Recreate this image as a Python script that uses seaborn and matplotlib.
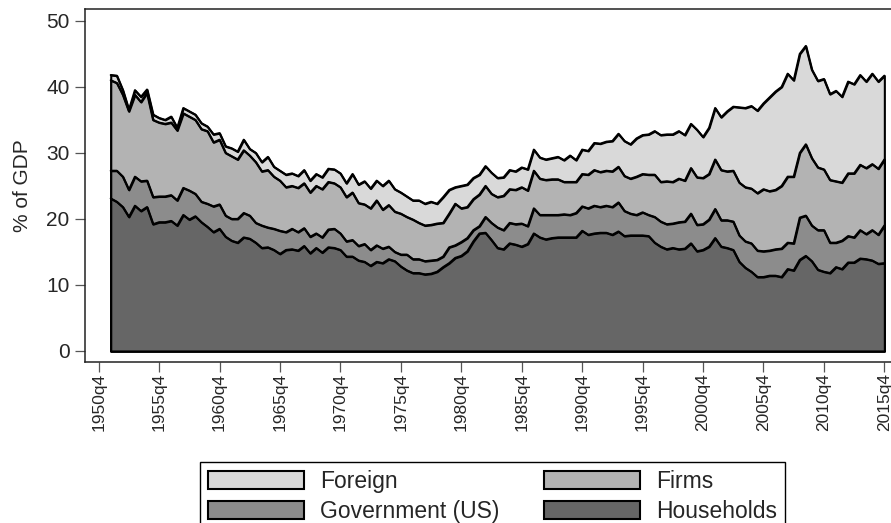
import matplotlib
matplotlib.use("Agg")
import matplotlib.pyplot as plt
from matplotlib.patches import Patch
import numpy as np
import pandas as pd
import seaborn as sns

# half-yearly observations (q2 / q4), 1951q4 .. 2015q4
quarters = pd.period_range("1951Q4", "2015Q4", freq="Q")[::2]

# cumulative holdings, % of GDP (each series includes the ones below it)
households = [
    23.1, 22.6, 21.8, 20.3, 22.0, 21.2, 21.8, 19.2, 19.5, 19.5,
    19.7, 19.0, 20.6, 19.9, 20.4, 19.5, 18.8, 18.0, 18.5, 17.3,
    16.7, 16.4, 17.2, 17.0, 16.4, 15.6, 15.7, 15.3, 14.7, 15.3,
    15.4, 15.2, 15.9, 14.8, 15.6, 14.9, 15.7, 15.6, 15.3, 14.3,
    14.3, 13.7, 13.5, 12.9, 13.5, 13.3, 13.9, 13.6, 12.8, 12.2,
    11.8, 11.8, 11.6, 11.7, 12.0, 12.7, 13.3, 14.1, 14.4, 15.1,
    16.6, 17.8, 17.9, 16.8, 15.6, 15.4, 16.3, 16.1, 15.8, 16.2,
    17.8, 17.2, 16.9, 17.1, 17.2, 17.2, 17.2, 17.2, 18.2, 17.6,
    17.8, 17.9, 17.9, 17.6, 18.1, 17.4, 17.5, 17.5, 17.5, 17.4,
    16.4, 15.8, 15.4, 15.6, 15.4, 15.5, 16.3, 15.1, 15.3, 15.8,
    17.1, 15.8, 15.6, 15.3, 13.5, 12.6, 12.0, 11.2, 11.2, 11.4,
    11.4, 11.2, 12.4, 12.2, 13.8, 14.4, 13.6, 12.3, 12.0, 11.8,
    12.7, 12.4, 13.4, 13.4, 14.0, 13.9, 13.7, 13.2, 13.3,
]
plus_government = [
    27.3, 27.3, 26.4, 24.4, 26.4, 25.7, 25.8, 23.3, 23.4, 23.4,
    23.6, 22.8, 24.7, 24.3, 23.8, 22.6, 22.3, 21.9, 22.2, 20.5,
    20.0, 20.0, 20.9, 20.5, 19.4, 19.0, 18.7, 18.5, 18.2, 18.0,
    18.5, 18.0, 18.6, 17.3, 17.8, 17.2, 18.4, 18.5, 17.8, 16.6,
    16.8, 15.9, 16.2, 15.3, 16.0, 15.5, 15.8, 15.0, 14.6, 14.6,
    13.9, 13.9, 13.6, 13.7, 13.8, 14.3, 15.7, 16.0, 16.5, 17.1,
    18.3, 18.9, 20.3, 19.4, 18.7, 18.3, 19.4, 19.2, 19.3, 18.9,
    21.6, 20.6, 20.6, 20.6, 20.6, 20.7, 20.6, 20.9, 21.9, 21.6,
    22.0, 21.8, 22.0, 21.8, 22.5, 21.2, 20.8, 20.6, 21.0, 20.6,
    20.3, 19.6, 19.2, 19.3, 19.5, 19.6, 20.8, 19.1, 19.2, 19.9,
    21.5, 19.8, 19.8, 19.6, 17.5, 16.6, 16.3, 15.2, 15.1, 15.2,
    15.4, 15.5, 16.4, 16.3, 20.2, 20.5, 19.0, 18.3, 18.3, 16.4,
    16.4, 16.7, 17.4, 17.2, 18.3, 17.7, 18.3, 17.6, 19.0,
]
plus_firms = [
    41.0, 40.6, 38.8, 36.3, 38.8, 37.7, 39.1, 35.0, 34.6, 34.4,
    34.6, 33.4, 36.0, 35.5, 35.0, 33.6, 33.3, 31.6, 32.0, 30.0,
    29.5, 29.0, 30.4, 29.6, 28.6, 27.2, 27.4, 26.4, 25.8, 24.8,
    25.0, 24.7, 25.4, 24.0, 25.0, 24.5, 25.6, 25.4, 24.8, 23.3,
    24.0, 22.4, 22.2, 21.6, 22.8, 21.4, 22.1, 21.1, 20.8, 20.3,
    19.9, 19.4, 19.0, 19.1, 19.3, 19.4, 20.8, 22.3, 21.6, 21.8,
    23.0, 23.7, 25.0, 23.8, 23.3, 23.5, 24.5, 24.4, 24.8, 24.3,
    27.3, 26.1, 25.9, 26.0, 26.0, 25.6, 25.6, 25.6, 26.8, 26.7,
    27.4, 27.1, 27.3, 27.2, 27.9, 26.5, 26.1, 26.4, 26.8, 26.7,
    26.7, 25.6, 25.7, 25.6, 26.1, 25.8, 27.7, 26.3, 26.2, 26.8,
    29.0, 27.4, 27.2, 27.3, 25.5, 24.8, 24.6, 23.9, 24.5, 24.2,
    24.4, 25.0, 26.4, 26.4, 30.0, 31.3, 29.2, 27.8, 27.5, 25.9,
    25.7, 25.5, 26.9, 26.9, 28.2, 27.7, 28.3, 27.6, 29.0,
]
plus_foreign = [
    41.8, 41.7, 39.5, 36.5, 39.5, 38.5, 39.6, 35.8, 35.3, 35.0,
    35.5, 33.8, 36.8, 36.3, 35.8, 34.5, 34.0, 32.8, 33.0, 31.0,
    30.7, 30.2, 32.0, 30.6, 30.0, 28.6, 29.4, 27.9, 27.3, 26.7,
    26.9, 26.5, 27.4, 25.8, 26.8, 26.3, 27.6, 27.5, 26.9, 25.4,
    26.8, 25.2, 25.7, 24.6, 25.8, 25.0, 25.8, 24.5, 24.0, 23.4,
    22.8, 22.8, 22.3, 22.6, 22.3, 23.3, 24.4, 24.8, 25.0, 25.2,
    26.2, 26.7, 28.0, 27.0, 26.2, 26.3, 27.4, 27.2, 27.8, 27.5,
    30.5, 29.3, 29.0, 29.2, 29.4, 28.9, 29.6, 28.9, 30.5, 30.3,
    31.5, 31.4, 31.7, 31.8, 32.9, 31.8, 31.3, 32.2, 32.7, 32.8,
    33.3, 32.7, 32.8, 32.8, 33.3, 32.7, 34.4, 33.5, 32.4, 33.8,
    36.8, 35.4, 36.3, 37.0, 36.9, 36.8, 37.1, 36.4, 37.5, 38.4,
    39.3, 40.0, 42.0, 41.0, 45.0, 46.2, 42.6, 40.9, 41.2, 38.9,
    39.4, 38.5, 40.8, 40.4, 41.8, 40.8, 42.0, 40.8, 41.7,
]

tick_years = list(range(1950, 2016, 5))
tick_labels = [f"{y}q4" for y in tick_years]

t = quarters.year + (quarters.quarter - 1) / 4.0

layers = [
    ("Foreign", plus_foreign, "#d9d9d9"),
    ("Firms", plus_firms, "#b3b3b3"),
    ("Government (US)", plus_government, "#8c8c8c"),
    ("Households", households, "#666666"),
]

sns.set_style("white")
plt.rcParams["font.family"] = ["Liberation Sans", "DejaVu Sans"]

fig = plt.figure(figsize=(8.91, 5.23), dpi=100)
ax = fig.add_axes([85 / 891, 161 / 523, 806 / 891, 353 / 523])

# areas drawn from 0 upward, tallest first (Stata-style overlay)
for name, vals, col in layers:
    ax.fill_between(t, 0, vals, facecolor=col, edgecolor="black",
                    linewidth=1.5, joinstyle="round")

df = pd.DataFrame({"t": t})
for name, vals, col in layers:
    df[name] = vals
long = df.melt(id_vars="t", var_name="layer", value_name="pct")
sns.lineplot(data=long, x="t", y="pct", units="layer", estimator=None,
             color="black", linewidth=1.5, ax=ax, legend=False)

ax.set_xlim(1949.62, 2016.3)
ax.set_ylim(-1.67, 51.8)
ax.set_xticks([y + 0.75 for y in tick_years])
ax.set_xticklabels(tick_labels, rotation=90)
ax.set_yticks([0, 10, 20, 30, 40, 50])
ax.set_xlabel("")
ax.set_ylabel("% of GDP", fontsize=15, labelpad=10)

ax.tick_params(axis="y", direction="out", length=7, width=0.9,
               color="#555555", labelsize=15, pad=4, left=True)
ax.tick_params(axis="x", direction="out", length=7, width=0.9,
               color="#555555", labelsize=12.5, pad=1, bottom=True)

for side in ["left", "bottom", "top"]:
    ax.spines[side].set_color("#222222")
    ax.spines[side].set_linewidth(1.1)
ax.spines["right"].set_visible(False)

handles = [Patch(facecolor=c, edgecolor="black", linewidth=1.5, label=n)
           for n, _, c in [layers[0], layers[2], layers[1], layers[3]]]
leg = fig.legend(handles=handles, ncol=2, loc="upper left",
                 bbox_to_anchor=(200 / 891, 1 - 462 / 523, 585 / 891, 0),
                 bbox_transform=fig.transFigure, mode="expand",
                 borderaxespad=0,
                 fontsize=16.5, handlelength=4.2, handleheight=0.82,
                 handletextpad=0.68, labelspacing=0.3, borderpad=0.35,
                 frameon=True, fancybox=False, edgecolor="black", framealpha=1)
leg.get_frame().set_linewidth(1.0)

fig.savefig("out.png", dpi=100)
